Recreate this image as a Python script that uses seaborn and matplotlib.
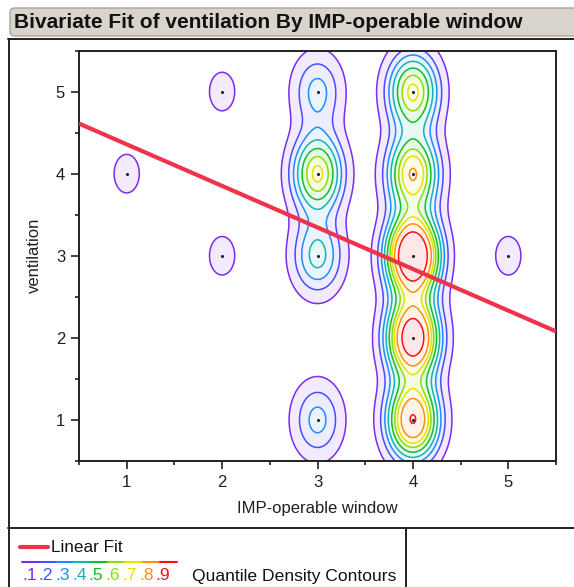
import numpy as np
import pandas as pd
import matplotlib
matplotlib.use("Agg")
import matplotlib.pyplot as plt
from matplotlib.patches import FancyBboxPatch
from matplotlib.lines import Line2D
import seaborn as sns

# ---- data (grid of discrete responses and their counts) ----
window_vals = [1, 2, 2, 3, 3, 3, 3, 4, 4, 4, 4, 4, 5]
ventilation_vals = [4, 5, 3, 1, 3, 4, 5, 1, 2, 3, 4, 5, 3]
counts = [1, 1, 1, 3, 4, 7, 3, 10, 12, 14, 8, 7, 1]

x_ticks = [1, 2, 3, 4, 5]
y_ticks = [1, 2, 3, 4, 5]
quantile_levels = [0.1, 0.2, 0.3, 0.4, 0.5, 0.6, 0.7, 0.8, 0.9]
level_labels = [".1", ".2", ".3", ".4", ".5", ".6", ".7", ".8", ".9"]

title = "Bivariate Fit of ventilation By IMP-operable window"
x_label = "IMP-operable window"
y_label = "ventilation"

df = pd.DataFrame({
    "window": np.repeat(window_vals, counts),
    "ventilation": np.repeat(ventilation_vals, counts),
}).astype(float)

level_colors = ["#7a2cf0", "#4b4bff", "#1e8cff", "#14b4b4", "#10c020",
                "#8cdc00", "#e8e000", "#ff9010", "#ff1010"]

def tint(c, a=0.12):
    r, g, b = matplotlib.colors.to_rgb(c)
    return (1 - a + a * r, 1 - a + a * g, 1 - a + a * b)

fill_colors = [tint(c, 0.10) for c in level_colors]

# ---- axis-aligned kernel density on a grid (JMP-style smoother) ----
gx = np.linspace(0.0, 6.0, 481)
gy = np.linspace(0.0, 6.0, 481)
XX, YY = np.meshgrid(gx, gy)

def density(hx, hy):
    d = np.zeros_like(XX)
    for xi, yi, ni in zip(window_vals, ventilation_vals, counts):
        d += ni * np.exp(-0.5 * ((XX - xi) / hx) ** 2 - 0.5 * ((YY - yi) / hy) ** 2)
    v = np.sort(d.ravel())[::-1]
    cum = np.cumsum(v) / v.sum()
    t = v[np.searchsorted(cum, 1 - np.asarray(quantile_levels))]
    return d, t

HX, HY = 0.18, 0.32
dens, thr = density(HX, HY)

sns.set_style("white")
plt.rcParams["font.family"] = ["Liberation Sans", "DejaVu Sans"]

W, H = 574, 587
fig = plt.figure(figsize=(W / 100, H / 100), dpi=100)

def fx(px):
    return px / W

def fy(py):
    return 1 - py / H

ax = fig.add_axes([fx(79), fy(461), fx(556) - fx(79), fy(50.5) - fy(461)])
ax.set_xlim(0.5, 5.5)
ax.set_ylim(0.5, 5.5)

ax.contourf(XX, YY, dens, levels=list(thr) + [dens.max() * 1.01], colors=fill_colors)
ax.contour(XX, YY, dens, levels=thr, colors=level_colors, linewidths=1.1)

pts = pd.DataFrame({"window": window_vals, "ventilation": ventilation_vals})
sns.scatterplot(data=pts, x="window", y="ventilation", color="#202020",
                s=5, linewidth=0, ax=ax, zorder=5)

sns.regplot(data=df, x="window", y="ventilation", scatter=False, ci=None,
            truncate=False, ax=ax,
            line_kws=dict(color="#f0324a", lw=3, solid_capstyle="butt", zorder=6))

ax.set_xlim(0.5, 5.5)
ax.set_ylim(0.5, 5.5)
ax.set_xticks(x_ticks)
ax.set_yticks(y_ticks)
ax.set_xticks(np.arange(0.5, 5.51, 0.5), minor=True)
ax.set_yticks(np.arange(0.5, 5.51, 0.5), minor=True)
ax.tick_params(axis="both", which="major", direction="out", length=6, width=1.2,
               color="#202020", labelsize=12, labelcolor="#202020", pad=4,
               bottom=True, left=True)
ax.tick_params(axis="both", which="minor", direction="out", length=3, width=1.2,
               color="#202020", bottom=True, left=True)
for s in ax.spines.values():
    s.set_color("#202020")
    s.set_linewidth(1.4)
ax.set_xlabel(x_label, fontsize=12, color="#202020", labelpad=8)
ax.set_ylabel(y_label, fontsize=12, color="#202020", labelpad=10)

# ---- title bar ----
fig.patches.append(FancyBboxPatch((fx(10), fy(36)), fx(580) - fx(10), fy(8) - fy(36),
                                  boxstyle="round,pad=0,rounding_size=0.008",
                                  transform=fig.transFigure, facecolor="#d8d4cc",
                                  edgecolor="#a8a49c", lw=1.0))
fig.text(fx(14), fy(22), title, fontsize=15, fontweight="bold",
         color="#111111", va="center", ha="left")

# ---- outer frame lines ----
def fline(x0, y0, x1, y1, lw=1.4, c="#202020"):
    fig.add_artist(Line2D([fx(x0), fx(x1)], [fy(y0), fy(y1)], color=c, lw=lw,
                          transform=fig.transFigure))

fline(8, 39, 574, 39)
fline(8.5, 38.5, 8.5, 587)
fline(8, 528, 574, 528)
fline(406, 528, 406, 587)

# ---- legend ----
fline(20, 547, 48, 547, lw=3, c="#f0324a")
fig.text(fx(51), fy(547), "Linear Fit", fontsize=12.3, color="#111111",
         va="center", ha="left")
seg = (177 - 22) / len(level_colors)
for i, c in enumerate(level_colors):
    fline(22 + i * seg, 562, 22 + (i + 1) * seg, 562, lw=1.5, c=c)
    fig.text(fx(22 + i * 16.7), fy(576), level_labels[i], fontsize=12.5, color=c,
             va="center", ha="left")
fig.text(fx(192), fy(577), "Quantile Density Contours", fontsize=12.6,
         color="#111111", va="center", ha="left")

fig.savefig("out.png", dpi=100, facecolor="white")
